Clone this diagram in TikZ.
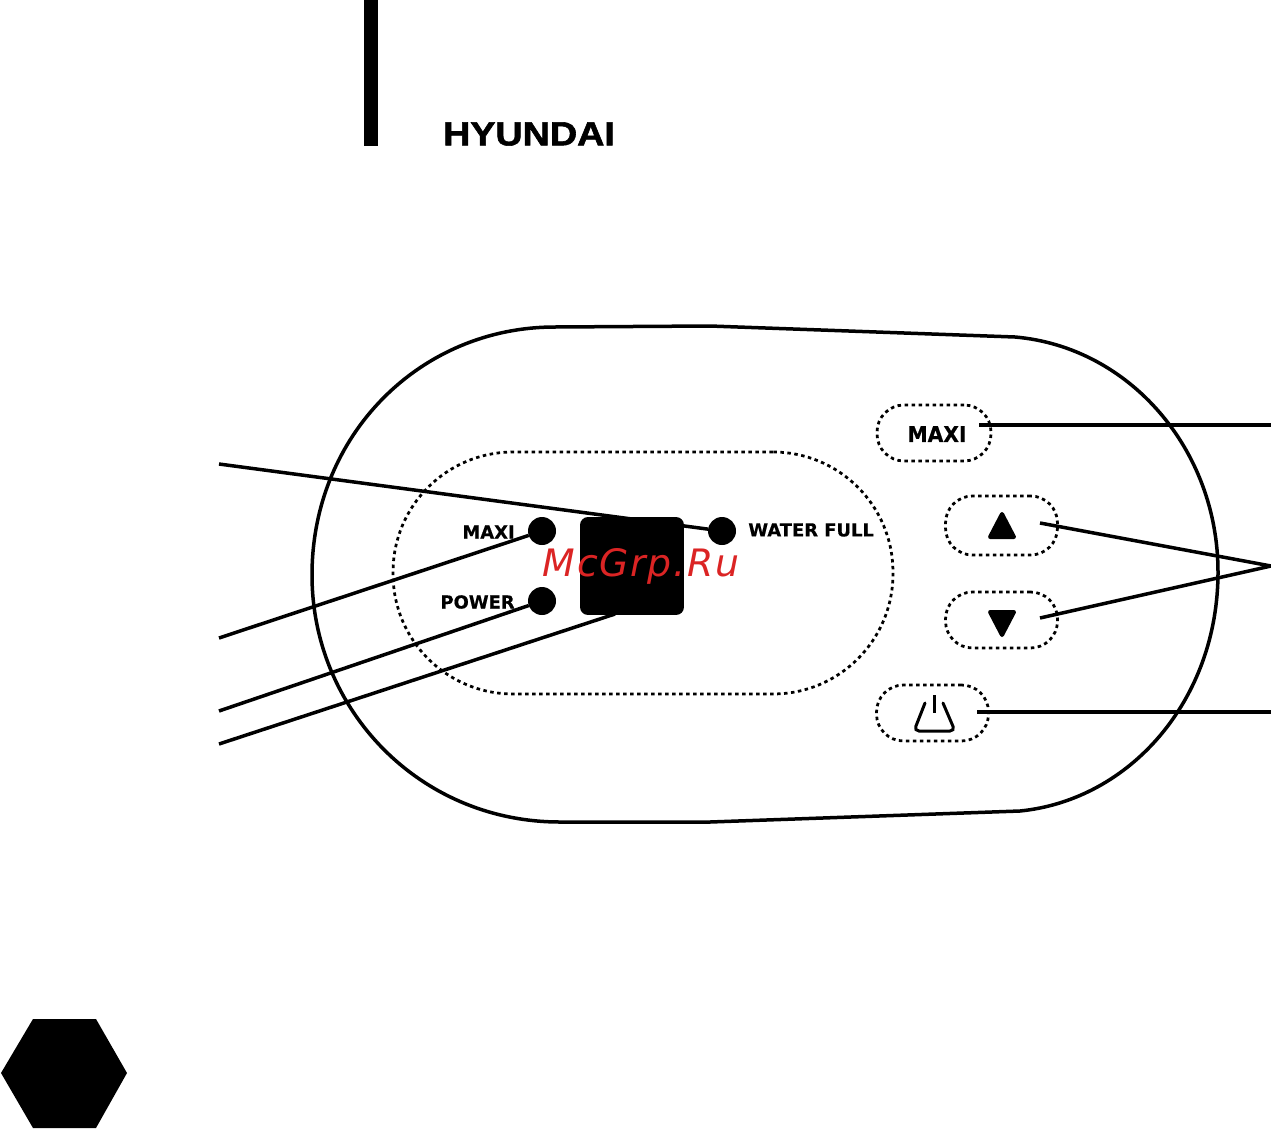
\documentclass[tikz,border=0pt]{standalone}
\usepackage{fontspec}
\setmainfont[BoldFeatures={FakeBold=0.5}]{DejaVu Sans}
\newfontfamily\logofont[FakeBold=1.6]{Liberation Sans Bold}
\newfontfamily\markfont[LetterSpace=4.6]{DejaVu Sans Oblique}
\usetikzlibrary{positioning}
\definecolor{markred}{rgb}{0.86,0.14,0.14}

\begin{document}
\begin{tikzpicture}[x = 0.02cm, y = -0.02cm, node distance = 0.5cm]
  \useasboundingbox (0,0) rectangle (1271,1129);
  \tikzset{LedStyle/.style    = {shape          = circle,
                                 fill           = black,
                                 inner sep      = 0pt,
                                 outer sep      = 0pt,
                                 minimum size   = 0.56cm}}
  \tikzset{ButtonStyle/.style = {draw,
                                 line width     = 0.055cm,
                                 dash pattern   = on 0.07cm off 0.07cm,
                                 rounded corners = 0.54cm,
                                 inner sep      = 0pt,
                                 minimum width  = 2.24cm,
                                 minimum height = 1.12cm}}
  \tikzset{LeaderStyle/.style = {line width     = 0.07cm}}
  \tikzset{LabelStyle/.style  = {inner sep      = 0pt,
                                 font           = \bfseries\fontsize{10.2}{12}\selectfont}}
  \tikzset{GlyphStyle/.style  = {fill,
                                 draw,
                                 line width     = 0.08cm,
                                 line join      = round}}

  % logo and page furniture
  \fill (364,0) rectangle (378,146);
  \node[inner sep = 0pt, xscale = 1.13, yscale = 1.0,
        font = \logofont\fontsize{19}{20}\selectfont] (logo) at (529,134) {HYUNDAI};
  \fill (1,1073) -- (33,1019) -- (96,1019) -- (127,1073) -- (96,1128) -- (33,1128) -- cycle;

  % housing
  \draw[line width = 0.07cm] (555,327) -- (710,326) -- (1015,337)
     .. controls (1130,347) and (1218,450) .. (1218,572)
     .. controls (1218,700) and (1130,800) .. (1020,811)
     -- (710,822) -- (560,822)
     .. controls (420,822) and (312,710) .. (312,575)
     .. controls (312,435) and (420,327) .. (555,327) -- cycle;

  % display field
  \node[ButtonStyle, minimum width = 10cm, minimum height = 4.84cm,
        rounded corners = 2.4cm] (field) at (643,573) {};

  % free ends of the leaders
  \coordinate (endwater)  at (219,464);
  \coordinate (endmaxi)   at (219,638);
  \coordinate (endpower)  at (219,711);
  \coordinate (endscreen) at (219,744);
  \coordinate (endright)  at (1271,425);
  \coordinate (endarrows) at (1271,566);
  \coordinate (endswitch) at (1271,712);

  \node[LedStyle] (ledmaxi)  at (542,531) {};
  \node[LedStyle] (ledpower) at (542,601) {};
  \node[LedStyle] (ledwater) at (722,531) {};

  \node[LabelStyle, left  = 0.26cm of ledmaxi,  yshift = -0.02cm] (labmaxi)  {MAXI};
  \node[LabelStyle, left  = 0.26cm of ledpower, yshift = -0.02cm] (labpower) {POWER};
  \node[LabelStyle, right = 0.24cm of ledwater, yshift = 0.02cm] (labwater) {WATER FULL};

  \coordinate (screenfoot) at (615,614);
  \draw[LeaderStyle] (endwater)  -- (ledwater);
  \draw[LeaderStyle] (endmaxi)   -- (ledmaxi);
  \draw[LeaderStyle] (endpower)  -- (ledpower);
  \draw[LeaderStyle] (endscreen) -- (screenfoot);

  \node[fill = black, rounded corners = 0.16cm, inner sep = 0pt,
        minimum width = 2.08cm, minimum height = 1.96cm] (screen) at (632,566) {};

  % buttons
  \node[ButtonStyle, minimum width = 2.28cm] (btnmaxi)  at (934,433) {};
  \node[ButtonStyle, minimum height = 1.18cm] (btnup)   at (1001.5,525.5) {};
  \node[ButtonStyle] (btndown)   at (1001.5,620) {};
  \node[ButtonStyle] (btnswitch) at (932.5,713) {};

  \node[inner sep = 0pt, xscale = 0.93,
        font = \bfseries\fontsize{12.4}{14}\selectfont] (txtmaxi) at (937,434) {MAXI};

  \coordinate (startmaxi)   at (979,425);
  \coordinate (startup)     at (1040,523);
  \coordinate (startdown)   at (1040,618);
  \coordinate (startswitch) at (977,712);
  \draw[LeaderStyle] (startmaxi)   -- (endright);
  \draw[LeaderStyle] (startup)     -- (endarrows);
  \draw[LeaderStyle] (startdown)   -- (endarrows);
  \draw[LeaderStyle] (startswitch) -- (endswitch);

  \draw[GlyphStyle] (1002,514) -- (1014,537) -- (990,537) -- cycle;
  \draw[GlyphStyle] (1002,635) -- (1014,612) -- (990,612) -- cycle;

  % power symbol
  \draw[line width = 0.06cm] (934,695) -- (934,713);
  \draw[line width = 0.06cm, line cap = round, rounded corners = 0.1cm]
     (925,703) -- (914,731) -- (955,731) -- (943,703);

  \node[inner sep = 0pt, text = markred,
        font = \markfont\fontsize{21.5}{24}\selectfont] (mark) at (641,566) {McGrp.Ru};
\end{tikzpicture}
\end{document}
